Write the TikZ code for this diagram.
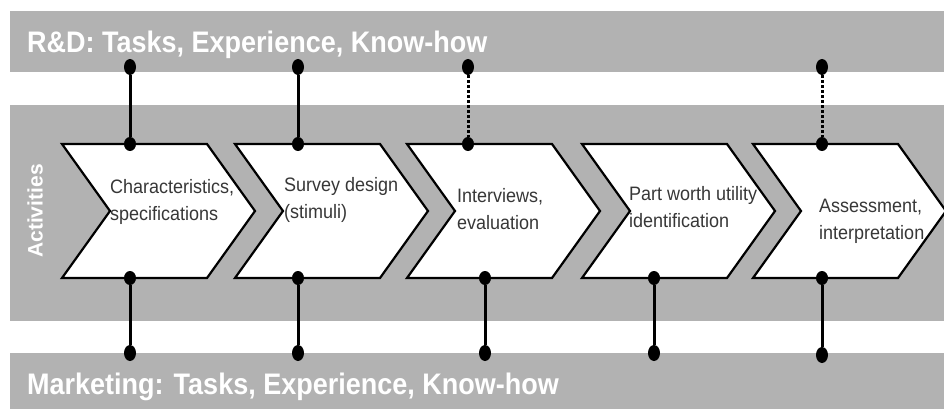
\documentclass[tikz,border=0pt]{standalone}
\usepackage{fontspec}
\setmainfont{Liberation Sans}
\usetikzlibrary{shapes.geometric}
\definecolor{bandgray}{RGB}{178,178,178}
\definecolor{txt}{RGB}{55,55,55}
\begin{document}
\begin{tikzpicture}[x=1pt,y=-1pt,
  chev/.style={draw=black, line width=2.2pt, fill=white, line join=miter},
  dotnode/.style={ellipse, fill=black, draw=none, inner sep=0pt, minimum width=12pt, minimum height=16pt},
  link/.style={line width=3pt},
  dlink/.style={line width=3pt, dash pattern=on 3pt off 2pt},
  lbl/.style={anchor=west, align=left, text=txt, yscale=1.08, font=\fontsize{18}{25}\selectfont, inner sep=0pt},
  ttl/.style={anchor=base west, text=white, yscale=1.1, font=\fontsize{27}{30}\selectfont\bfseries, inner sep=0pt}]
\useasboundingbox (0,0) rectangle (944,409);
% bands
\fill[bandgray] (10,11) rectangle (944,72);
\fill[bandgray] (10,105) rectangle (944,321);
\fill[bandgray] (10,353) rectangle (944,409);
% titles
\node[ttl] (rd) at (27,53) {R\&D: Tasks, Experience, Know-how};
\node[ttl] (mk) at (27,394) {Marketing: Tasks, Experience, Know-how};
\node[rotate=90, text=white, inner sep=0pt, font=\fontsize{21}{21}\selectfont\bfseries] (act) at (35,211) {Activities};
% chevrons
\foreach \x in {62,235,407,582,753}{
  \draw[chev] (\x,144) -- (\x+145,144) -- (\x+193,211) -- (\x+145,278) -- (\x,278) -- (\x+48,211) -- cycle;
}
% labels
\node[lbl] (l1) at (110,202) {Characteristics,\\specifications};
\node[lbl] (l2) at (284,200) {Survey design\\(stimuli)};
\node[lbl] (l3) at (457,209) {Interviews,\\evaluation};
\node[lbl] (l4) at (629,207) {Part worth utility\\identification};
\node[lbl] (l5) at (819,221) {Assessment,\\interpretation};
% dots top
\node[dotnode] (ta1) at (130,67) {};
\node[dotnode] (ta2) at (298,67) {};
\node[dotnode] (ta3) at (468,67) {};
\node[dotnode] (ta5) at (822,67) {};
\node[dotnode, minimum height=14pt] (tc1) at (130,144) {};
\node[dotnode, minimum height=14pt] (tc2) at (298,144) {};
\node[dotnode, minimum height=14pt] (tc3) at (468,144) {};
\node[dotnode, minimum height=14pt] (tc5) at (822,144) {};
% dots bottom
\node[dotnode, minimum height=14pt] (bc1) at (130,278) {};
\node[dotnode, minimum height=14pt] (bc2) at (298,278) {};
\node[dotnode, minimum height=14pt] (bc3) at (485,278) {};
\node[dotnode, minimum height=14pt] (bc4) at (654,278) {};
\node[dotnode, minimum height=14pt] (bc5) at (822,278) {};
\node[dotnode] (bm1) at (130,353) {};
\node[dotnode] (bm2) at (298,353) {};
\node[dotnode] (bm3) at (485,353) {};
\node[dotnode] (bm4) at (654,353) {};
\node[dotnode] (bm5) at (822,355) {};
% links
\draw[link] (ta1) -- (tc1);
\draw[link] (ta2) -- (tc2);
\draw[dlink] (ta3) -- (tc3);
\draw[dlink] (ta5) -- (tc5);
\draw[link] (bc1) -- (bm1);
\draw[link] (bc2) -- (bm2);
\draw[link] (bc3) -- (bm3);
\draw[link] (bc4) -- (bm4);
\draw[link] (bc5) -- (bm5);
\end{tikzpicture}
\end{document}
